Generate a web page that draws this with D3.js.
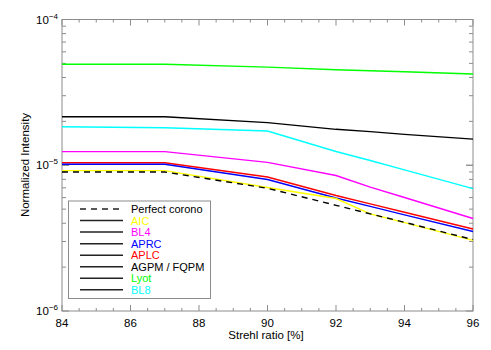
<!DOCTYPE html>
<html><head><meta charset="utf-8">
<script src="https://cdn.jsdelivr.net/npm/d3@7"></script>
<style>body{margin:0;background:#fff}svg{display:block;font-family:"Liberation Sans",Arial,sans-serif}</style>
</head><body><svg id="c" width="491" height="350"></svg>
<script>
const strehl = [84, 87, 90, 92, 93, 94, 96];
const perfect = [8.99e-6, 8.99e-6, 6.95e-6, 5.31e-6, 4.64e-6, 4.06e-6, 3.09e-6];
const aic  = [9.18e-6, 9.18e-6, 7.04e-6, 5.91e-6, 4.64e-6, 4.04e-6, 3.05e-6];
const bl4  = [1.24e-5, 1.24e-5, 1.047e-5, 8.5e-6, 7.08e-6, 6.01e-6, 4.31e-6];
const aprc = [1.015e-5, 1.015e-5, 7.98e-6, 5.96e-6, 5.22e-6, 4.57e-6, 3.51e-6];
const aplc = [1.041e-5, 1.041e-5, 8.3e-6, 6.2e-6, 5.43e-6, 4.76e-6, 3.65e-6];
const agpm = [2.15e-5, 2.15e-5, 1.96e-5, 1.764e-5, 1.70e-5, 1.63e-5, 1.51e-5];
const lyot = [4.93e-5, 4.93e-5, 4.71e-5, 4.52e-5, 4.45e-5, 4.38e-5, 4.23e-5];
const bl8  = [1.837e-5, 1.81e-5, 1.718e-5, 1.243e-5, 1.078e-5, 9.3e-6, 6.92e-6];
const seriesNames = ["Perfect corono", "AIC", "BL4", "APRC", "APLC", "AGPM / FQPM", "Lyot", "BL8"];
const seriesColors = ["#000000", "#ffff00", "#ff00ff", "#0000ff", "#ff0000", "#000000", "#00ff00", "#00ffff"];
const seriesData = [perfect, aic, bl4, aprc, aplc, agpm, lyot, bl8];
const xTicks = [84, 86, 88, 90, 92, 94, 96];
const yMajor = [1e-6, 1e-5, 1e-4];
const yMajorExp = ["-6", "-5", "-4"];

const svg = d3.select("#c");
const L = 62, R = 473, T = 19.5, B = 311;
const x = d3.scaleLinear().domain([84, 96]).range([L, R]);
const y = d3.scaleLog().domain([1e-6, 1e-4]).range([B, T]);
const axisColor = "#8c8c8c";

// frame
const g = svg.append("g");
g.append("rect").attr("x", L).attr("y", T).attr("width", R - L).attr("height", B - T)
  .attr("fill", "none").attr("stroke", axisColor).attr("stroke-width", 1);

// x ticks
const xMinor = d3.range(84, 96.01, 0.5);
xMinor.forEach(v => {
  const major = Math.abs(v / 2 - Math.round(v / 2)) < 1e-6;
  const len = major ? 6 : 3;
  g.append("line").attr("x1", x(v)).attr("x2", x(v)).attr("y1", B).attr("y2", B - len).attr("stroke", axisColor);
  g.append("line").attr("x1", x(v)).attr("x2", x(v)).attr("y1", T).attr("y2", T + len).attr("stroke", axisColor);
});
xTicks.forEach(v => {
  g.append("text").attr("x", x(v)).attr("y", 327).attr("text-anchor", "middle")
    .attr("font-size", 11.5).attr("fill", "#000").text(v);
});
// y ticks
const yMinorVals = [];
[1e-6, 1e-5].forEach(d => { for (let k = 1; k <= 10; k++) yMinorVals.push(d * k); });
yMinorVals.forEach(v => {
  const major = yMajor.some(m => Math.abs(Math.log10(m) - Math.log10(v)) < 1e-6);
  const len = major ? 7 : 4;
  g.append("line").attr("x1", L).attr("x2", L + len).attr("y1", y(v)).attr("y2", y(v)).attr("stroke", axisColor);
  g.append("line").attr("x1", R).attr("x2", R - len).attr("y1", y(v)).attr("y2", y(v)).attr("stroke", axisColor);
});
yMajor.forEach((v, i) => {
  const t = g.append("text").attr("x", 58).attr("y", y(v) + 4).attr("text-anchor", "end")
    .attr("font-size", 11.5).attr("fill", "#000");
  t.append("tspan").text("10");
  t.append("tspan").attr("dy", -5).attr("font-size", 8).text(yMajorExp[i].replace("-", "\u2212"));
});

// axis titles
g.append("text").attr("x", 266).attr("y", 339).attr("text-anchor", "middle")
  .attr("font-size", 11.5).attr("fill", "#000").text("Strehl ratio [%]");
g.append("text").attr("transform", "translate(29,165) rotate(-90)").attr("text-anchor", "middle")
  .attr("font-size", 11.5).attr("fill", "#000").text("Normalized Intensity");

// lines
const line = d3.line().x((d, i) => x(strehl[i])).y(d => y(d));
const order = [7, 6, 5, 2, 4, 3, 1, 0];
order.forEach(i => {
  svg.append("path").datum(seriesData[i]).attr("d", line).attr("fill", "none")
    .attr("stroke", seriesColors[i]).attr("stroke-width", 1.4)
    .attr("stroke-dasharray", i === 0 ? "6,5" : null);
});

// legend
const lg = svg.append("g");
lg.append("rect").attr("x", 68.5).attr("y", 201).attr("width", 142).attr("height", 97.5)
  .attr("fill", "#fff").attr("stroke", axisColor).attr("stroke-width", 1);
seriesNames.forEach((n, i) => {
  const yy = 209 + i * 11.55;
  lg.append("line").attr("x1", 80).attr("x2", 123).attr("y1", yy).attr("y2", yy)
    .attr("stroke", "#222").attr("stroke-width", 1.5)
    .attr("stroke-dasharray", i === 0 ? "6,5" : null);
  lg.append("text").attr("x", 131).attr("y", yy + 4).attr("font-size", 11)
    .attr("fill", seriesColors[i]).text(n);
});
</script></body></html>
